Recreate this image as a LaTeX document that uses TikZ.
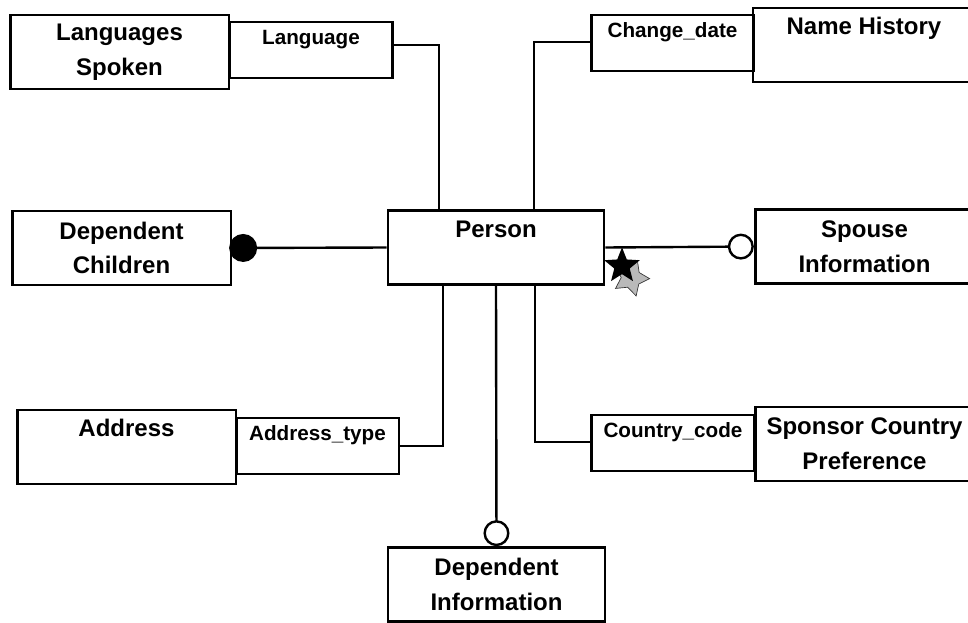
\documentclass[tikz,border=0pt]{standalone}
\usepackage{fontspec}
\setmainfont{Liberation Sans}
\usetikzlibrary{arrows.meta,shapes.geometric}

\tikzset{
  entity/.style={draw, line width=2pt, minimum width=164pt, minimum height=55.5pt,
    align=center, inner sep=4pt, font=\bfseries\fontsize{18}{26}\selectfont},
  toptext/.style={text height=16pt, text depth=31.5pt},
  keybox/.style={draw, line width=2pt, minimum width=122pt, inner sep=4pt,
    text height=12.75pt, text depth=21.25pt, font=\bfseries\fontsize{15.5}{18}\selectfont},
  link/.style={line width=1.8pt},
}

\begin{document}
\begin{tikzpicture}[x=0.75pt,y=-0.75pt]
		\useasboundingbox (0,0) rectangle (968,622);
		% entities
		\node[entity, toptext, minimum width=162pt] (person) at (496,247.5) {Person};
		\node[entity] (lang) at (119.5,52) {Languages\\Spoken};
		\node[entity] (child) at (121.5,248) {Dependent\\Children};
		\node[entity, toptext] (address) at (126.5,447) {Address};
		\node[entity, toptext, minimum width=166.5pt] (history) at (864,45) {Name History};
		\node[entity] (spouse) at (864.5,246.5) {Spouse\\Information};
		\node[entity] (sponsor) at (864.5,444) {Sponsor Country\\Preference};
		\node[entity, minimum width=162.75pt] (depinfo) at (496.5,584.5) {Dependent\\Information};
		% keys
		\node[keybox] (langkey) at (311,50) {Language};
		\node[keybox] (datekey) at (672.5,43) {Change\_date};
		\node[keybox] (addrkey) at (317.5,446) {Address\_type};
		\node[keybox] (countrykey) at (673,443) {Country\_code};
		% connectors
		\draw[link] ([yshift=3.75pt]langkey.east) -| ([xshift=-42.75pt]person.north);
		\draw[link] ([yshift=0.75pt]datekey.west) -| ([xshift=28.5pt]person.north);
		\draw[link] (addrkey.east) -| ([xshift=-39.75pt]person.south);
		\draw[link] ([yshift=0.75pt]countrykey.west) -| ([xshift=29.25pt]person.south);
		\draw[link, {Circle[length=21pt]}-] ([xshift=-2.25pt]child.east) -- (person.west);
		\draw[link, -{Circle[open, length=19.5pt]}] (person.east) -- (spouse.west);
		\draw[link, -{Circle[open, length=19.5pt]}] (person.south) -- (depinfo.north);
		% star mark
		\node[star, star points=5, star point ratio=1.9, fill=gray!55, draw=gray!40!black,
			line width=0.5pt, minimum size=28pt, inner sep=0pt, rotate=-20] (starshade) at (631,278) {};
		\node[star, star points=5, star point ratio=2.3, fill=black, minimum size=28pt,
			inner sep=0pt] (starmark) at (622,266) {};
\end{tikzpicture}
\end{document}
